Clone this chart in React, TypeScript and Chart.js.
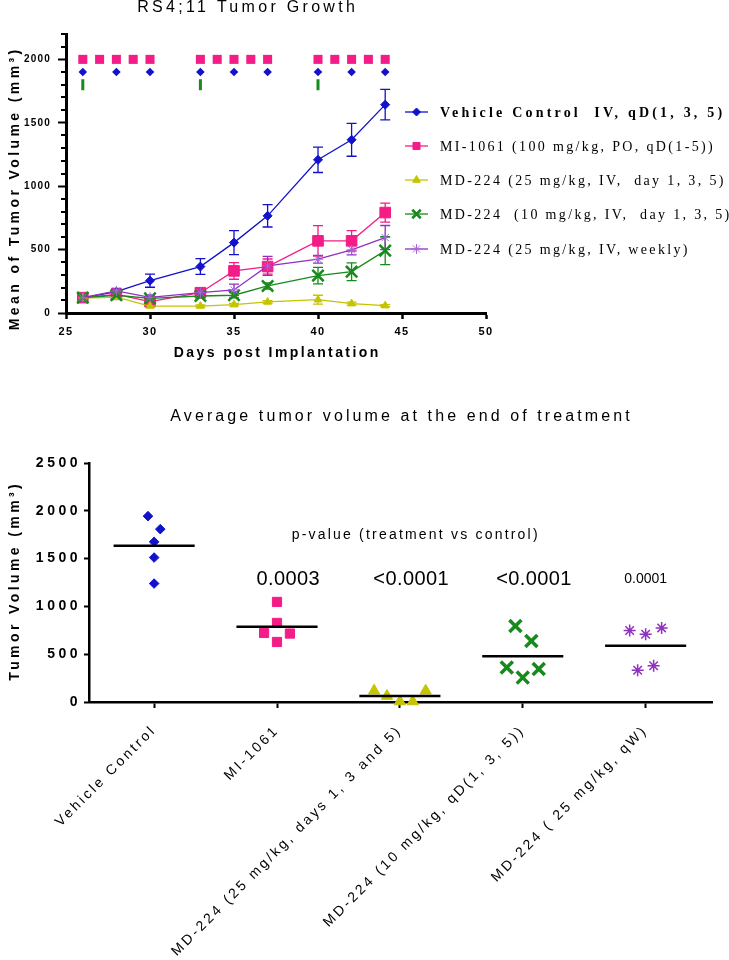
import React, { useEffect, useRef } from "react";
import { Chart, registerables } from "chart.js";
import { drawPoint } from "chart.js/helpers";

Chart.register(...registerables);

// ---------------- DATA: top chart (RS4;11 Tumor Growth) ----------------
const days = [26, 28, 30, 33, 35, 37, 40, 42, 44];
const seriesLabels = [
  "Vehicle Control  IV, qD(1, 3, 5)",
  "MI-1061 (100 mg/kg, PO, qD(1-5))",
  "MD-224 (25 mg/kg, IV,  day 1, 3, 5)",
  "MD-224  (10 mg/kg, IV,  day 1, 3, 5)",
  "MD-224 (25 mg/kg, IV, weekly)",
];
const vehicleMean = [120, 168, 255, 366, 555, 766, 1208, 1366, 1643];
const vehicleErr = [15, 20, 52, 62, 95, 88, 100, 130, 120];
const mi1061Mean = [121, 147, 90, 160, 332, 366, 569, 569, 792];
const mi1061Err = [15, 15, 20, 20, 66, 60, 120, 80, 75];
const md25Mean = [118, 125, 55, 55, 66, 87, 105, 74, 58];
const md25Err = [10, 10, 8, 8, 10, 10, 35, 12, 8];
const md10Mean = [121, 140, 116, 134, 140, 213, 295, 326, 492];
const md10Err = [10, 15, 15, 15, 20, 25, 65, 70, 110];
const weeklyMean = [121, 174, 124, 160, 182, 371, 424, 498, 595];
const weeklyErr = [10, 20, 18, 20, 45, 75, 30, 40, 95];

// dosing schedule markers
const miDoseDays = [26, 27, 28, 29, 30, 33, 34, 35, 36, 37, 40, 41, 42, 43, 44];
const miDoseLevel = 2000;
const vehicleDoseDays = [26, 28, 30, 33, 35, 37, 40, 42, 44];
const vehicleDoseLevel = 1900;
const weeklyDoseDays = [26, 33, 40];
const weeklyDoseLevel = 1800;

const topXTicks = [25, 30, 35, 40, 45, 50];
const topYTicks = [0, 500, 1000, 1500, 2000];

// ---------------- DATA: bottom chart (end of treatment) ----------------
const groupLabels = [
  "Vehicle Control",
  "MI-1061",
  "MD-224 (25 mg/kg, days 1, 3 and 5)",
  "MD-224 (10 mg/kg, qD(1, 3, 5))",
  "MD-224 ( 25 mg/kg, qW)",
];
const vehicleEnd = [1944, 1808, 1675, 1511, 1239];
const mi1061End = [1047, 827, 722, 716, 628];
const md25End = [118, 62, 5, 5, 118];
const md10End = [796, 639, 360, 255, 346];
const weeklyEnd = [747, 709, 775, 332, 380];
// horizontal scatter (column jitter, in category units)
const vehicleJitter = [-0.05, 0.05, 0, 0, 0];
const mi1061Jitter = [0, 0, -0.105, 0.105, 0];
const md25Jitter = [-0.21, -0.105, 0, 0.105, 0.21];
const md10Jitter = [-0.06, 0.07, -0.13, 0, 0.13];
const weeklyJitter = [-0.13, 0, 0.13, -0.065, 0.065];
const pValueLabels = ["", "0.0003", "<0.0001", "<0.0001", "0.0001"];
const bottomYTicks = [0, 500, 1000, 1500, 2000, 2500];

// ---------------- STYLE ----------------
const SANS = "'Liberation Sans', Arial, sans-serif";
const SERIF = "'Liberation Serif', 'Times New Roman', serif";
const BLUE = "#1212CC";
const PINK = "#F41C86";
const YELLOW = "#C4C400";
const GREEN = "#178A1C";
const PURPLE = "#9030C0";
const PURPLE_LIGHT = "#A468D8";

type Sty = { line: string; fill: string; style: string; r: number; bw: number; lr: number; lbw: number };
const topStyles: Sty[] = [
  { line: BLUE, fill: BLUE, style: "rectRot", r: 4.5, bw: 1, lr: 4, lbw: 1 },
  { line: PINK, fill: PINK, style: "rect", r: 7.5, bw: 1, lr: 5, lbw: 1 },
  { line: YELLOW, fill: YELLOW, style: "triangle", r: 4.5, bw: 1, lr: 4.5, lbw: 1 },
  { line: GREEN, fill: GREEN, style: "crossRot", r: 8, bw: 2.5, lr: 6, lbw: 2.5 },
  { line: PURPLE, fill: PURPLE_LIGHT, style: "star", r: 5, bw: 1, lr: 5, lbw: 1 },
];
const topMeans = [vehicleMean, mi1061Mean, md25Mean, md10Mean, weeklyMean];
const topErrs = [vehicleErr, mi1061Err, md25Err, md10Err, weeklyErr];

const botStyles = [
  { color: BLUE, style: "rectRot", r: 4.8, bw: 1 },
  { color: PINK, style: "rect", r: 6.5, bw: 1 },
  { color: YELLOW, style: "triangle", r: 6.5, bw: 1 },
  { color: GREEN, style: "crossRot", r: 8.5, bw: 3.5 },
  { color: PURPLE, style: "star", r: 6, bw: 1.5 },
];
const botValues = [vehicleEnd, mi1061End, md25End, md10End, weeklyEnd];
const botJitter = [vehicleJitter, mi1061Jitter, md25Jitter, md10Jitter, weeklyJitter];

// ---------------- helpers ----------------
function drawText(
  ctx: CanvasRenderingContext2D,
  text: string,
  x: number,
  y: number,
  o: { font: string; spacing?: number; align?: CanvasTextAlign; baseline?: CanvasTextBaseline; rotate?: number; color?: string }
) {
  ctx.save();
  ctx.font = o.font;
  const sp = o.spacing ?? 0;
  (ctx as any).letterSpacing = sp + "px";
  ctx.fillStyle = o.color ?? "#000";
  ctx.textAlign = o.align ?? "center";
  ctx.textBaseline = o.baseline ?? "middle";
  ctx.translate(x, y);
  if (o.rotate) ctx.rotate(o.rotate);
  const dx = (o.align ?? "center") === "center" ? sp / 2 : o.align === "right" ? sp : 0;
  ctx.fillText(text, dx, 0);
  ctx.restore();
}

function patchLabelSpacing(scale: any, spacing: number) {
  if (scale.__ls === spacing) return;
  scale.__ls = spacing;
  const proto = Object.getPrototypeOf(scale);
  scale.drawLabels = function (area: any) {
    const c = this.ctx;
    c.save();
    c.letterSpacing = spacing + "px";
    proto.drawLabels.call(this, area);
    c.restore();
  };
}

const errorBarPlugin = {
  id: "errorBars",
  beforeDatasetsDraw(chart: any) {
    const { ctx } = chart;
    const xs = chart.scales.x;
    const ys = chart.scales.y;
    chart.data.datasets.forEach((ds: any) => {
      if (!ds.errors) return;
      ctx.save();
      ctx.strokeStyle = ds.borderColor;
      ctx.lineWidth = 1.3;
      ds.data.forEach((p: any, i: number) => {
        const e = ds.errors[i];
        if (!e) return;
        const px = xs.getPixelForValue(p.x);
        const y1 = ys.getPixelForValue(p.y + e);
        const y2 = ys.getPixelForValue(p.y - e);
        ctx.beginPath();
        ctx.moveTo(px, y1);
        ctx.lineTo(px, y2);
        ctx.moveTo(px - 5, y1);
        ctx.lineTo(px + 5, y1);
        ctx.moveTo(px - 5, y2);
        ctx.lineTo(px + 5, y2);
        ctx.stroke();
      });
      ctx.restore();
    });
  },
};

const minorTickPlugin = {
  id: "minorTicks",
  afterDraw(chart: any) {
    const ys = chart.scales.y;
    const { ctx } = chart;
    const left = chart.chartArea.left;
    ctx.save();
    ctx.strokeStyle = "#000";
    ctx.lineWidth = 2;
    ys.ticks.forEach((t: any) => {
      if (t.value % 500 === 0) return;
      const py = Math.round(ys.getPixelForValue(t.value));
      ctx.beginPath();
      ctx.moveTo(left - 5, py);
      ctx.lineTo(left, py);
      ctx.stroke();
    });
    ctx.restore();
  },
};

const topTextPlugin = {
  id: "topText",
  afterDraw(chart: any) {
    const ctx: CanvasRenderingContext2D = chart.ctx;
    const ca = chart.chartArea;
    drawText(ctx, "RS4;11 Tumor Growth", 246, 8, { font: `16px ${SANS}`, spacing: 3.3 });
    drawText(ctx, "Mean of Tumor Volume (mm³)", 15, 190, {
      font: `bold 14px ${SANS}`,
      spacing: 3.4,
      rotate: -Math.PI / 2,
    });
    drawText(ctx, "Days post Implantation", (ca.left + ca.right) / 2, 353, { font: `bold 14px ${SANS}`, spacing: 2.4 });
    // legend
    const rows = [112, 146, 180, 214, 249];
    seriesLabels.forEach((lab, i) => {
      const s = topStyles[i];
      const y = rows[i];
      ctx.save();
      ctx.strokeStyle = s.line;
      ctx.lineWidth = 1.3;
      ctx.beginPath();
      ctx.moveTo(405, y);
      ctx.lineTo(428, y);
      ctx.stroke();
      ctx.fillStyle = s.fill;
      ctx.strokeStyle = i === 4 ? s.fill : s.line;
      ctx.lineWidth = s.lbw;
      drawPoint(ctx, { pointStyle: s.style as any, radius: s.lr, rotation: 0, borderWidth: s.lbw } as any, 416.5, y);
      ctx.restore();
      drawText(ctx, lab, 440, y + 1, {
        font: `${i === 0 ? "bold " : ""}14px ${SERIF}`,
        spacing: i === 0 ? 3.2 : 2.35,
        align: "left",
      });
    });
  },
};

const bottomTextPlugin = {
  id: "bottomText",
  afterDraw(chart: any) {
    const ctx: CanvasRenderingContext2D = chart.ctx;
    const ca = chart.chartArea;
    const xs = chart.scales.x;
    const ys = chart.scales.y;
    drawText(ctx, "Average tumor volume at the end of treatment", 400, 47, { font: `16px ${SANS}`, spacing: 3.1 });
    drawText(ctx, "Tumor Volume (mm³)", 15, (ca.top + ca.bottom) / 2, {
      font: `bold 14px ${SANS}`,
      spacing: 3.4,
      rotate: -Math.PI / 2,
    });
    drawText(ctx, "p-value (treatment vs control)", xs.getPixelForValue(2.12), ys.getPixelForValue(1745), {
      font: `14px ${SANS}`,
      spacing: 2.2,
    });
    pValueLabels.forEach((p, i) => {
      if (!p) return;
      const small = i === 4;
      drawText(ctx, p, xs.getPixelForValue(i + (small ? 0 : 0.09)), ys.getPixelForValue(1284), {
        font: `${small ? 14 : 20}px ${SANS}`,
        spacing: small ? 0 : 0.4,
      });
    });
  },
};

function topConfig(): any {
  const lineSets = seriesLabels.map((lab, i) => {
    const s = topStyles[i];
    return {
      type: "line",
      label: lab,
      data: days.map((d, j) => ({ x: d, y: topMeans[i][j] })),
      errors: topErrs[i],
      borderColor: s.line,
      borderWidth: 1.3,
      pointStyle: s.style,
      pointRadius: s.r,
      pointBackgroundColor: s.fill,
      pointBorderColor: i === 4 ? s.fill : s.line,
      pointBorderWidth: s.bw,
      fill: false,
      tension: 0,
      clip: false,
      order: 5 - i,
    };
  });
  const doseSets = [
    {
      type: "line",
      label: "dose-mi",
      data: miDoseDays.map((d) => ({ x: d, y: miDoseLevel })),
      showLine: false,
      pointStyle: "rect",
      pointRadius: 6.4,
      pointBackgroundColor: PINK,
      pointBorderColor: PINK,
      pointBorderWidth: 0,
      clip: false,
    },
    {
      type: "line",
      label: "dose-vehicle",
      data: vehicleDoseDays.map((d) => ({ x: d, y: vehicleDoseLevel })),
      showLine: false,
      pointStyle: "rectRot",
      pointRadius: 4.3,
      pointBackgroundColor: BLUE,
      pointBorderColor: BLUE,
      pointBorderWidth: 0,
      clip: false,
    },
    {
      type: "line",
      label: "dose-weekly",
      data: weeklyDoseDays.map((d) => ({ x: d, y: weeklyDoseLevel })),
      showLine: false,
      pointStyle: "line",
      pointRotation: 90,
      pointRadius: 5.5,
      pointBackgroundColor: GREEN,
      pointBorderColor: GREEN,
      pointBorderWidth: 3,
      clip: false,
    },
  ];
  return {
    type: "line",
    data: { datasets: [...lineSets, ...doseSets] },
    options: {
      animation: false,
      responsive: false,
      devicePixelRatio: 1,
      layout: { padding: { top: 34, right: 243, left: 0, bottom: 0 } },
      plugins: { legend: { display: false }, title: { display: false }, tooltip: { enabled: false } },
      scales: {
        x: {
          type: "linear",
          min: topXTicks[0],
          max: topXTicks[topXTicks.length - 1],
          afterBuildTicks: (s: any) => {
            s.ticks = topXTicks.map((v) => ({ value: v }));
          },
          ticks: {
            font: { family: SANS, size: 11, weight: "bold" },
            color: "#000",
            padding: 6,
            maxRotation: 0,
            autoSkip: false,
            callback: (v: number) => String(v),
          },
          grid: { drawOnChartArea: false, tickLength: 6, tickWidth: 2.5, tickColor: "#000" },
          border: { display: true, width: 3, color: "#000" },
          afterFit: (s: any) => {
            s.height = 57;
            patchLabelSpacing(s, 1.5);
          },
        },
        y: {
          type: "linear",
          min: 0,
          max: 2200,
          ticks: {
            stepSize: 100,
            autoSkip: false,
            font: { family: SANS, size: 10, weight: "bold" },
            color: "#000",
            padding: 7,
            callback: (v: number) => (topYTicks.includes(v) ? String(v) : ""),
          },
          grid: {
            drawOnChartArea: false,
            tickLength: 8,
            tickWidth: 2,
            tickColor: (c: any) => (c.tick && c.tick.value % 500 === 0 ? "#000" : "rgba(0,0,0,0)"),
          },
          border: { display: true, width: 3, color: "#000" },
          afterFit: (s: any) => {
            s.width = 66;
            patchLabelSpacing(s, 1.2);
          },
        },
      },
    },
    plugins: [errorBarPlugin, minorTickPlugin, topTextPlugin],
  };
}

function bottomConfig(): any {
  const scatterSets = botValues.map((vals, i) => {
    const s = botStyles[i];
    return {
      type: "scatter",
      label: groupLabels[i],
      data: vals.map((v, j) => ({ x: i + botJitter[i][j], y: v })),
      pointStyle: s.style,
      pointRadius: s.r,
      pointBackgroundColor: s.color,
      pointBorderColor: s.color,
      pointBorderWidth: s.bw,
      clip: false,
      order: 1,
    };
  });
  const meanSets = botValues.map((vals, i) => {
    const m = vals.reduce((a, b) => a + b, 0) / vals.length;
    return {
      type: "line",
      label: "mean " + groupLabels[i],
      data: [
        { x: i - 0.33, y: m },
        { x: i + 0.33, y: m },
      ],
      borderColor: "#000",
      borderWidth: 2.5,
      pointRadius: 0,
      clip: false,
      order: 0,
    };
  });
  return {
    type: "scatter",
    data: { datasets: [...scatterSets, ...meanSets] },
    options: {
      animation: false,
      responsive: false,
      devicePixelRatio: 1,
      layout: { padding: { top: 93, right: 17, left: 0, bottom: 0 } },
      plugins: { legend: { display: false }, title: { display: false }, tooltip: { enabled: false } },
      scales: {
        x: {
          type: "linear",
          min: -0.53,
          max: 4.54,
          afterBuildTicks: (s: any) => {
            s.ticks = groupLabels.map((_, i) => ({ value: i }));
          },
          ticks: {
            autoSkip: false,
            maxRotation: 45,
            minRotation: 45,
            font: { family: SANS, size: 14 },
            color: "#000",
            padding: 14,
            callback: (v: number) => groupLabels[v] ?? "",
          },
          grid: { drawOnChartArea: false, tickLength: 6, tickWidth: 2, tickColor: "#000" },
          border: { display: true, width: 2.5, color: "#000" },
          afterFit: (s: any) => {
            s.height = 258;
            patchLabelSpacing(s, 2.8);
          },
        },
        y: {
          type: "linear",
          min: 0,
          max: 2500,
          afterBuildTicks: (s: any) => {
            s.ticks = bottomYTicks.map((v) => ({ value: v }));
          },
          ticks: {
            font: { family: SANS, size: 14, weight: "bold" },
            color: "#000",
            padding: 3,
            callback: (v: number) => String(v),
          },
          grid: { drawOnChartArea: false, tickLength: 5, tickWidth: 2, tickColor: "#000" },
          border: { display: true, width: 2.5, color: "#000" },
          afterFit: (s: any) => {
            s.width = 89;
            patchLabelSpacing(s, 3.5);
          },
        },
      },
    },
    plugins: [bottomTextPlugin],
  };
}

export default function App() {
  const topRef = useRef<HTMLCanvasElement>(null);
  const botRef = useRef<HTMLCanvasElement>(null);
  useEffect(() => {
    Chart.defaults.font.family = SANS;
    Chart.defaults.color = "#000";
    const top = new Chart(topRef.current as HTMLCanvasElement, topConfig());
    const bot = new Chart(botRef.current as HTMLCanvasElement, bottomConfig());
    return () => {
      top.destroy();
      bot.destroy();
    };
  }, []);
  return (
    <div style={{ position: "absolute", left: 0, top: 0, width: 729, height: 960, background: "#fff" }}>
      <canvas
        ref={topRef}
        width={729}
        height={370}
        style={{ position: "absolute", left: 0, top: 0, width: 729, height: 370 }}
      />
      <canvas
        ref={botRef}
        width={729}
        height={590}
        style={{ position: "absolute", left: 0, top: 370, width: 729, height: 590 }}
      />
    </div>
  );
}
